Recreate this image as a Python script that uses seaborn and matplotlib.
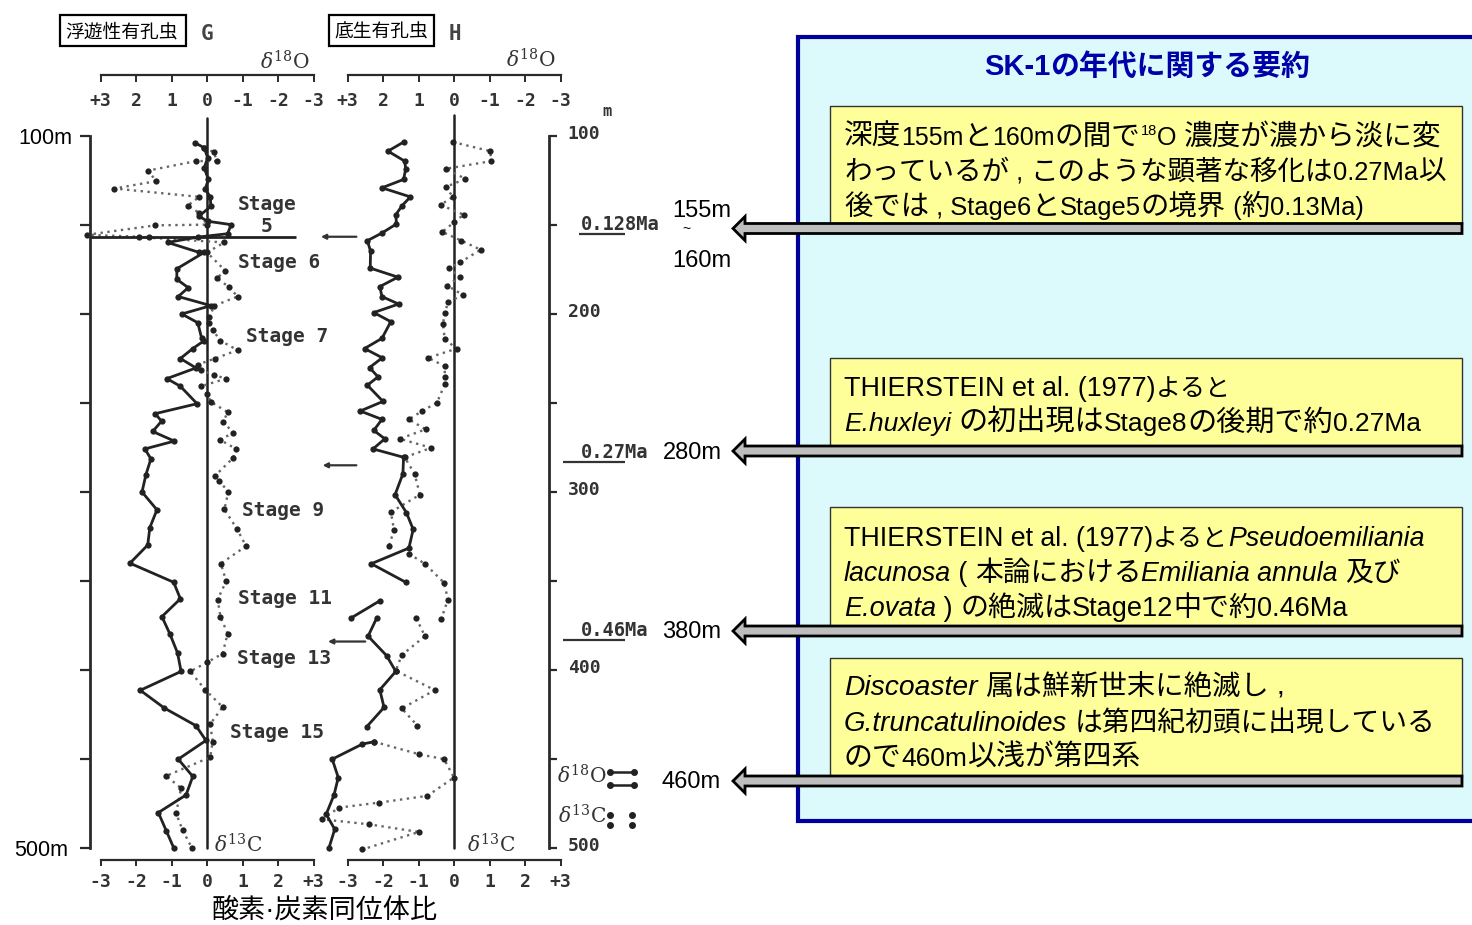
import re
import numpy as np
import pandas as pd
import seaborn as sns
import matplotlib.pyplot as plt
from matplotlib.patches import Rectangle, Polygon
from matplotlib.transforms import ScaledTranslation

W, H = 1472, 925
nan = np.nan

# G panel (planktonic), solid = d18O on the top scale, dotted = d13C on the bottom scale
g_18o_depth = [103.8, 106.6, 112.2, 117.9, 124.4, 129.7, 134.2, 139.5, 145.1, 147.9, 149.8, 154.9, 156.8,
               159.8, 165.4, 165.4, 174.6, 180.5, 185.2, 190.2, 195.3, 200, 204.9, 213.7, 215, 219.4, 225,
               230.3, 236.3, 240.6, 250.4, 256, 260.2, 266, 271.4, 275.8, 281.4, 290.2, 300, 310, 320, 329.8,
               340, 350.7, 360, 370, 380, 390.4, 400.8, 411.4, 421.4, 431.3, 439.6, 450.1, 459.8, 470.2,
               480.1, 490.2, 499.8]
g_18o = [.34, .08, -.02, .08, -.04, .05, -.09, -.11, .23, -.02, -.68, -.58, .26,
         1.11, .22, .08, .85, .85, .53, .81, -.11, .71, .26, .15, .08, .40, .75,
         .31, 1.13, .75, .28, 1.46, 1.28, 1.53, .92, 1.75, 1.58, 1.72, 1.83, 1.41, 1.61, 1.67,
         2.17, .94, .75, 1.27, 1.04, .83, .73, 1.88, 1.2, .31, .03, .81, .40,
         .59, 1.37, 1.15, .94]
g_13c_depth = [106.6, 109, 114.1, 114.1, 119.4, 125.4, 129.5, 134.2, 139.1, 143.2, 149.8, 150.2, 155.5, 156.8,
               156.8, 159.8, 165.4, 175.6, 179.9, 185, 190.2, 195.3, 201.5, 205.3, 209, 215, 220.3, 225,
               228.4, 231.6, 234.4, 236.3, 240.6, 244.7, 249.4, 255.1, 260.7, 266.7, 270.7, 275.8, 280.8,
               290.8, 293.8, 300, 309.8, 320.6, 330.4, 340.2, 350.1, 360.4, 370.2, 379.5, 390.8, 395.7, 400.8,
               411.1, 420.8, 430.4, 440.2, 449, 459.5, 466.4, 480.5, 489.9, 499.8]
g_13c = [-.08, .19, .28, -.31, -1.65, -1.44, -2.61, -.22, -.54, -.22, 0, -1.46, -3.38, -1.62,
         -1.91, .49, 0, .51, .28, .63, .86, .21, .07, .07, .16, .38, .86, .23,
         -.26, -.17, .21, .54, -.17, 0, .11, .58, .46, .74, .37, .82, .74,
         .23, .35, .6, .49, .84, 1.1, .39, .54, .3, .38, .58, .44, 0, -.47,
         -.05, .44, .09, .16, .09, -1.15, -.73, -.87, -.69, -.43]

# H panel (benthic), nan marks a break in the line
h_18o_depth = [103.4, 108.5, 114.1, 118.4, 124.4, 129.1, 134.2, 139.1, 144.2, 149.4, 154.5, 158.8, 164.8,
               174.2, 179.3, 184.6, 190.2, 194.4, 199.2, 204.3, 213.7, 219.4, 224.6, 230.1, 235.3, 240,
               249.1, 254.5, 259.2, 265.4, 270.1, 275.8, 280.5, 289.8, 301.5, 311.6, 321, 331.5, 340.3, 350.7,
               nan, 361, 370.9, nan, 370.9, 381, 391.9, 400.8, 411.1, 421, 431.9,
               nan, 440.3, 441.6, 450.1, 460.4, 470.2, 481, 489.5, 499.8]
h_18o = [1.42, 1.86, 1.39, 1.36, 1.42, 2.03, 1.23, 1.46, 1.64, 1.62, 2.03, 2.44, 2.35,
         2.36, 1.58, 2.09, 2.03, 1.56, 2.26, 1.78, 2.03, 2.52, 2.02, 2.38, 2.14, 2.44,
         2, 2.64, 2.03, 2.26, 1.95, 2.28, 1.42, 1.44, 1.66, 1.34, 1.15, 1.27, 2.33, 1.36,
         nan, 2.08, 2.91, nan, 2.18, 2.42, 1.9, 1.64, 2.09, 1.97, 2.46,
         nan, 2.25, 2.58, 3.43, 3.26, 3.38, 3.6, 3.36, 3.52]
h_13c_depth = [103.4, 108.5, 114.1, 118.4, 124.1, 128.6, 134.2, 138.7, 144.2, 148.5, 153.9, 158.8, 163.9, 170.9,
               174.2, 179.3, 184, 189.3, 193.4, 199.6, 205.6, 214.3, 219.4, 224.6, 229.3, 235.3, 239.5,
               249.8, 254.5, 259.2, 264.8, 270.1, 275.2, 280.5, 289.8, 301.5, 311.3, 321.2, 330.4,
               nan, 334.7, 340.3, 351, 360.4, 371.3,
               nan, 370.9, 381, 391.6, 400.4, 411.3, 421.6, 431.3,
               nan, 440.3, 447.3, 450.1, 460.4, 470.7, 474.5, 477.3, 483.9, 486.7, 491, 500.8]
h_13c = [-.03, 1.02, 1.05, -.22, .32, -.23, -.03, -.38, .27, 0, -.33, .21, .75, .18,
         -.14, .16, -.19, .25, -.17, -.26, -.31, -.26, .08, -.73, -.26, -.26, -.26,
         -.48, -.9, -1.27, -.8, -1.53, -.64, -1.39, -1.11, -.96, -1.78, -1.69, -1.83,
         nan, -1.27, -.82, -.28, -.17, -.36,
         nan, -1.06, -.82, -1.47, -1.64, -.54, -1.47, -1.03,
         nan, -2.25, -.99, -.28, 0, -.75, -2.11, -3.24, -3.71, -2.39, -.99, -2.58]

depth_ticks = [100, 150, 200, 250, 300, 350, 400, 450, 500]
left_depth_labels = ["100m", "", "", "", "", "", "", "", "500m"]
right_depth_labels = ["100", "", "200", "", "300", "", "400", "", "500"]
top_ticks = [3, 2, 1, 0, -1, -2, -3]
top_labels = ["+3", "2", "1", "0", "-1", "-2", "-3"]
bottom_ticks = [-3, -2, -1, 0, 1, 2, 3]
bottom_labels = ["-3", "-2", "-1", "0", "1", "2", "+3"]

# age markers
age_labels = ["0.128Ma", "0.27Ma", "0.46Ma"]
age_arrow_depth = [156.6, 285.0, 384.0]
age_arrow_tail = [2.75, 2.75, 2.5]
age_arrow_head = [3.75, 3.7, 3.55]
age_rule_depth = [155.0, 283.2, 383.0]
age_rule_start = [3.52, 3.07, 3.07]
age_text_pos = [(620, 224), (615, 453), (615, 631)]

stage_labels = [("Stage", 267, 204), ("5", 267, 227), ("Stage 6", 279, 262), ("Stage 7", 287, 336),
                ("Stage 9", 283, 510), ("Stage 11", 285, 598), ("Stage 13", 284, 658), ("Stage 15", 277, 733)]
depth_notes = [("155m", 702, 211), ("160m", 702, 261), ("280m", 692, 453), ("380m", 692, 632), ("460m", 691, 782)]

boxes = [(106, 224), (358, 447), (507, 627), (658, 777)]
arrow_rows = [228.5, 451, 631, 781]
# baseline, latin size, cjk size, runs
box_text = [
    (146, 18, 20.6, [("深度155mと160mの間で", "n"), ("18", "s"), ("O ", "n"), ("濃度が濃から淡に変", "n")]),
    (181, 18.4, 19.85, [("わっているが , このような顕著な移化は0.27Ma以", "n")]),
    (216, 18.4, 20.4, [("後では , Stage6とStage5の境界 (約0.13Ma)", "n")]),
    (397, 19.4, 18, [("THIERSTEIN et al. (1977)よると", "n")]),
    (432, 19, 21, [("E.huxleyi", "i"), (" の初出現はStage8の後期で約0.27Ma", "n")]),
    (547, 19.3, 18, [("THIERSTEIN et al. (1977)よると", "n"), ("Pseudoemiliania", "i")]),
    (582, 19.3, 20, [("lacunosa", "i"), (" ( 本論における", "n"), ("Emiliania annula", "i"), (" 及び", "n")]),
    (617, 19.5, 20.2, [("E.ovata", "i"), (" ) の絶滅はStage12中で約0.46Ma", "n")]),
    (696, 20.3, 20.4, [("Discoaster", "i"), (" 属は鮮新世末に絶滅し ,", "n")]),
    (732, 20, 20, [("G.truncatulinoides", "i"), (" は第四紀初頭に出現している", "n")]),
    (767, 19, 20.8, [("ので460m以浅が第四系", "n")]),
]

sns.set_theme(style="white", rc={"axes.edgecolor": "#2a2a2a", "axes.linewidth": 1.6,
                                 "xtick.color": "#2a2a2a", "ytick.color": "#2a2a2a",
                                 "text.color": "#2a2a2a", "mathtext.fontset": "dejavuserif"})
plt.rcParams["font.family"] = ["Liberation Sans", "Noto Sans CJK JP", "DejaVu Sans"]

SCAN = dict(family="DejaVu Sans Mono", fontweight="bold", color="#333333")
fig = plt.figure(figsize=(W / 100, H / 100), dpi=100, facecolor="white")


def px_rect(x0, y0, x1, y1):
    return [x0 / W, 1 - y1 / H, (x1 - x0) / W, (y1 - y0) / H]


bg = fig.add_axes([0, 0, 1, 1], zorder=0)
bg.set_xlim(0, W)
bg.set_ylim(H, 0)
bg.axis("off")


def draw_series(ax, vals, depth, dotted):
    df = pd.DataFrame({"val": vals, "depth": depth})
    df["seg"] = df["val"].isna().cumsum()
    df = df.dropna()
    if dotted:
        style = dict(color="#666666", linewidth=1.7, linestyle=(0, (1, 1.9)), marker="o", markersize=4.5,
                     markerfacecolor="#222222", markeredgewidth=0)
    else:
        style = dict(color="#222222", linewidth=2.0, linestyle="-", marker="o", markersize=4.5,
                     markerfacecolor="#222222", markeredgewidth=0)
    sns.lineplot(data=df, x="val", y="depth", units="seg", estimator=None, sort=False, ax=ax,
                 clip_on=False, **style)
    ax.set_xlabel("")
    ax.set_ylabel("")


def make_panel(x0, x1, zero_px, s18, d18, s13, d13, zero_top):
    scale = 35.5
    ax13 = fig.add_axes(px_rect(x0, 136, x1, 848), zorder=2)
    ax13.patch.set_visible(False)
    ax18 = ax13.twiny()
    ax18.patch.set_visible(False)
    draw_series(ax13, s13, d13, True)
    draw_series(ax18, s18, d18, False)
    ax13.set_xlim((x0 - zero_px) / scale, (x1 - zero_px) / scale)
    ax18.set_xlim((zero_px - x0) / scale, (zero_px - x1) / scale)
    ax13.set_ylim(500, 100)

    # set_position resets the ticks, so it comes first
    ax13.spines["bottom"].set_position(("outward", 8.6))
    ax13.spines["bottom"].set_bounds(-3, 3)
    ax13.set_xticks(bottom_ticks, bottom_labels, fontsize=13, **SCAN)
    ax13.tick_params(axis="x", bottom=True, direction="out", length=4.5, width=1.4, pad=5)

    ax18.spines["top"].set_position(("outward", 44))
    ax18.spines["top"].set_bounds(3, -3)
    ax18.set_xticks(top_ticks, top_labels, fontsize=13, **SCAN)
    ax18.tick_params(axis="x", top=True, labeltop=True, bottom=False, labelbottom=False,
                     direction="in", length=5, width=1.4, pad=-25)
    for side in ["left", "right", "bottom"]:
        ax18.spines[side].set_visible(False)
    ax13.spines["top"].set_visible(False)
    ax13.axvline(0, ymin=0, ymax=zero_top, color="#222222", linewidth=1.8, clip_on=False, zorder=1)
    return ax13, ax18


# G panel
g13, g18 = make_panel(90, 325, 207, g_18o, g_18o_depth, g_13c, g_13c_depth, 1.025)
g13.set_yticks(depth_ticks, left_depth_labels, fontsize=15.5, color="black")
g13.tick_params(axis="y", left=True, direction="out", length=7, width=1.6, pad=6)
g13.get_yticklabels()[-1].set_x(-0.017)
g13.spines["right"].set_visible(False)
g13.spines["left"].set_linewidth(2)
g13.hlines(age_arrow_depth[0], -3.3, 2.5, color="#222222", linewidth=2, clip_on=False)

# H panel
h13, h18 = make_panel(330, 562, 454, h_18o, h_18o_depth, h_13c, h_13c_depth, 1.03)
h13.spines["left"].set_visible(False)
h13.spines["right"].set_position(("data", 2.68))
h13.spines["right"].set_bounds(500, 100)
h13.spines["right"].set_linewidth(2)
h13.yaxis.tick_right()
h13.set_yticks(depth_ticks, right_depth_labels, fontsize=13, **SCAN)
h13.tick_params(axis="y", right=True, direction="out", length=6, width=1.6, pad=6)
# the scan has the depth numbers a little above their ticks
for lab in h13.get_yticklabels():
    lab.set_transform(lab.get_transform() + ScaledTranslation(0.02, 0.04, fig.dpi_scale_trans))

for i in range(3):
    h18.annotate("", xy=(age_arrow_head[i], age_arrow_depth[i]), xytext=(age_arrow_tail[i], age_arrow_depth[i]),
                 xycoords="data", annotation_clip=False,
                 arrowprops=dict(arrowstyle="-|>", color="#333333", lw=1.6, mutation_scale=7,
                                 shrinkA=0, shrinkB=0))
    h13.hlines(age_rule_depth[i], age_rule_start[i], 4.82, color="#333333", linewidth=1.6, clip_on=False)
    bg.text(age_text_pos[i][0], age_text_pos[i][1], age_labels[i], ha="center", va="center", fontsize=13.5, **SCAN)
bg.text(607, 111, "m", ha="center", va="center", fontsize=11, **SCAN)

for label, x, y in stage_labels:
    bg.text(x, y, label, ha="center", va="center", fontsize=14, **SCAN)

# delta labels and the little key
for x, y, tx in [(285, 62, r"$\delta^{18}\mathrm{O}$"), (531, 60, r"$\delta^{18}\mathrm{O}$"),
                 (238, 845, r"$\delta^{13}\mathrm{C}$"), (491, 845, r"$\delta^{13}\mathrm{C}$"),
                 (582, 776, r"$\delta^{18}\mathrm{O}$"), (582, 816, r"$\delta^{13}\mathrm{C}$")]:
    bg.text(x, y, tx, ha="center", va="center", fontsize=14.5, color="#333333")
for row in [772, 785]:
    bg.plot([610, 634], [row, row], color="#222222", linewidth=1.8, marker="o", markersize=4)
for x in [610, 632]:
    bg.plot([x, x], [815, 825], linestyle="none", color="#222222", marker="o", markersize=4)

bg.text(207, 34, "G", ha="center", va="center", fontsize=15, color="#444444", family="DejaVu Sans Mono", fontweight="bold")
bg.text(455, 34, "H", ha="center", va="center", fontsize=15, color="#444444", family="DejaVu Sans Mono", fontweight="bold")
bg.add_patch(Rectangle((60, 15), 126, 31, facecolor="white", edgecolor="black", linewidth=1.6))
bg.add_patch(Rectangle((329, 15), 105, 31, facecolor="white", edgecolor="black", linewidth=1.6))
bg.text(122, 32.5, "浮遊性有孔虫", ha="center", va="center", fontsize=13.5, color="black")
bg.text(381, 32.5, "底生有孔虫", ha="center", va="center", fontsize=13.5, color="black")
bg.text(325, 911, "酸素·炭素同位体比", ha="center", va="center", fontsize=19.5, color="black")

# right hand summary panel
bg.add_patch(Rectangle((798, 37), 760, 784, facecolor="#DCFAFC", edgecolor="#00009B", linewidth=3, zorder=1))
for top, bottom in boxes:
    bg.add_patch(Rectangle((830, top), 632, bottom - top, facecolor="#FFFF99", edgecolor="#333333",
                           linewidth=1, zorder=2))

renderer = fig.canvas.get_renderer()


def rich_line(x, base, parts, latin=18, cjk=20, color="black", weight="normal"):
    for text, kind in parts:
        for run in re.findall(r"[\x00-\x7f]+|[^\x00-\x7f]+", text):
            ascii_run = ord(run[0]) < 128
            fam = "Liberation Sans" if ascii_run else "Noto Sans CJK JP"
            size = latin if ascii_run else cjk
            y = base
            if kind == "s":
                size, y = 10.5, base - 10
            t = bg.text(x, y, run, family=fam, fontsize=size, color=color, fontweight=weight,
                        fontstyle="italic" if kind == "i" and ascii_run else "normal",
                        ha="left", va="baseline", zorder=4)
            x += t.get_window_extent(renderer).width


for base, lat, kan, parts in box_text:
    rich_line(844, base - 1, parts, latin=lat, cjk=kan)
rich_line(984, 75, [("SK-1の年代に関する要約", "n")], latin=21, cjk=20.8, color="#0000A8", weight="bold")

for row in arrow_rows:
    arrow = [(733, row), (745, row - 12), (745, row - 5), (1462, row - 5), (1462, row + 5),
             (745, row + 5), (745, row + 12)]
    bg.add_patch(Polygon(arrow, closed=True, facecolor="#BEBEBE", edgecolor="black", linewidth=2, zorder=3))

for label, x, y in depth_notes:
    bg.text(x, y, label, ha="center", va="center", fontsize=17, color="black")
bg.text(686, 229, "~", ha="center", va="center", fontsize=10, color="black")

fig.savefig("out.png", dpi=100)
